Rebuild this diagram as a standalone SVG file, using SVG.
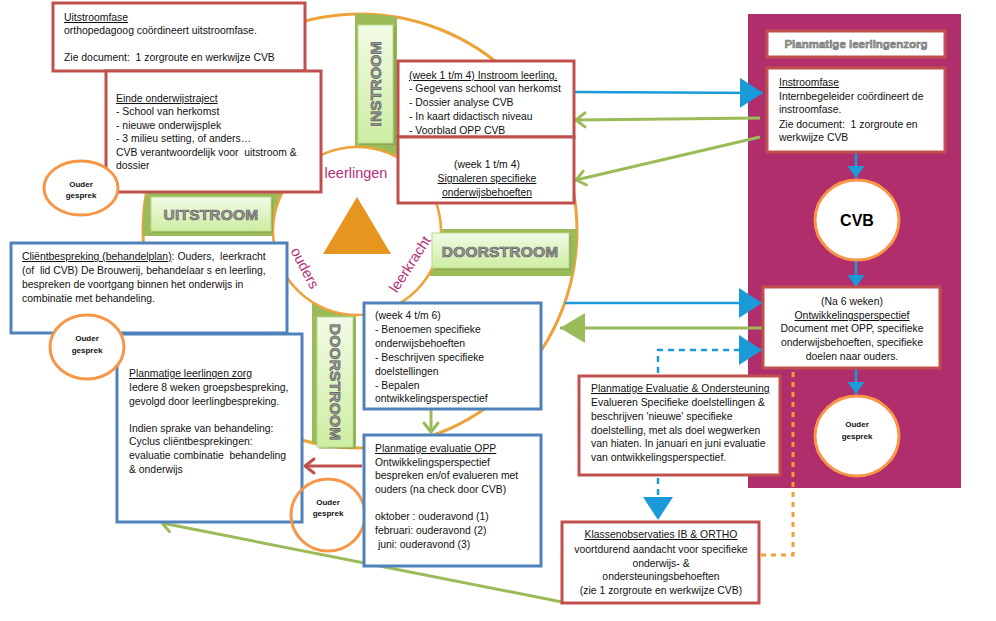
<svg xmlns="http://www.w3.org/2000/svg" width="996" height="621" viewBox="0 0 996 621">
<style>
.t{font-family:"Liberation Sans",Arial,sans-serif;font-size:10.4px;fill:#111;white-space:pre}
.c{text-anchor:middle}
.u{text-decoration:underline}
.rb{fill:#fff;stroke:#c0504d;stroke-width:3}
.bb{fill:#fff;stroke:#4f81bd;stroke-width:3}
.og{fill:#fff;stroke:#f79646;stroke-width:3}
.ogt{font-family:"Liberation Sans",Arial,sans-serif;font-weight:bold;font-size:8px;fill:#111;text-anchor:middle}
.lab{font-family:"Liberation Sans",Arial,sans-serif;font-weight:bold;font-size:15.5px;fill:#9a9a9a;stroke:#5e5e5e;stroke-width:0.7;text-anchor:middle;letter-spacing:0.2px}
.lbox{fill:url(#lg);stroke:#b7d98c;stroke-width:1}
.lsh{fill:#7f9b45;opacity:0.55}
.band{fill:#9bbb59}
.mag{font-family:"Liberation Sans",Arial,sans-serif;font-size:14.5px;fill:#b3307a;text-anchor:middle}
.bl{fill:none;stroke:#1b9ad9;stroke-width:2.5}
.gl{fill:none;stroke:#9bbb59;stroke-width:3}
.rl{fill:none;stroke:#c0504d;stroke-width:3}
.dash{stroke-dasharray:6,5}
</style>
<defs>
<linearGradient id="lg" x1="0" y1="0" x2="0" y2="1">
<stop offset="0" stop-color="#f2fbe6"/>
<stop offset="1" stop-color="#cdeda2"/>
</linearGradient>
<linearGradient id="lgv" x1="0" y1="0" x2="1" y2="0">
<stop offset="0" stop-color="#f2fbe6"/>
<stop offset="1" stop-color="#cdeda2"/>
</linearGradient>
<clipPath id="ring"><path clip-rule="evenodd" d="M143,231 a217,217 0 1,0 434,0 a217,217 0 1,0 -434,0 Z M273,231 a84,84 0 1,0 168,0 a84,84 0 1,0 -168,0 Z"/></clipPath>
<marker id="bBig" viewBox="0 0 23 30" refX="23" refY="15" markerWidth="23" markerHeight="30" markerUnits="userSpaceOnUse" orient="auto"><path d="M0,0 L23,15 L0,30 Z" fill="#1b9ad9"/></marker>
<marker id="bSm" viewBox="0 0 12 17" refX="12" refY="8.5" markerWidth="12" markerHeight="17" markerUnits="userSpaceOnUse" orient="auto"><path d="M0,0 L12,8.5 L0,17 Z" fill="#1b9ad9"/></marker>
<marker id="gBig" viewBox="0 0 25 30" refX="25" refY="15" markerWidth="25" markerHeight="30" markerUnits="userSpaceOnUse" orient="auto"><path d="M0,0 L25,15 L0,30 Z" fill="#9bbb59"/></marker>
<marker id="gCh" viewBox="0 0 14 18" refX="12" refY="9" markerWidth="14" markerHeight="18" markerUnits="userSpaceOnUse" orient="auto" overflow="visible"><path d="M3,2 L12,9 L3,16" fill="none" stroke="#9bbb59" stroke-width="3" stroke-linecap="round" stroke-linejoin="round"/></marker>
<marker id="rCh" viewBox="0 0 14 18" refX="12" refY="9" markerWidth="14" markerHeight="18" markerUnits="userSpaceOnUse" orient="auto" overflow="visible"><path d="M3,2 L12,9 L3,16" fill="none" stroke="#c0504d" stroke-width="3" stroke-linecap="round" stroke-linejoin="round"/></marker>
</defs>
<rect width="996" height="621" fill="#fff"/>

<g id="cycle">
<circle cx="360" cy="231" r="217" fill="#fff" stroke="#eda23a" stroke-width="3"/>
<g clip-path="url(#ring)">
<rect class="band" x="355" y="5" width="42" height="150"/>
<rect class="band" x="135" y="192" width="150" height="44"/>
<rect class="band" x="430" y="229" width="155" height="47"/>
<rect class="band" x="312" y="300" width="44" height="155"/>
</g>
<circle cx="357" cy="231" r="84" fill="#fff" stroke="#eda23a" stroke-width="2.5"/>
<polygon points="357,197 323,254 391,254" fill="#e6951f"/>
<text class="mag" x="356" y="178">leerlingen</text>
<text class="mag" transform="translate(305,268) rotate(62)" y="5">ouders</text>
<text class="mag" transform="translate(410,264) rotate(-57)" y="5">leerkracht</text>
</g>

<g id="label-instroom">
<rect class="lsh" x="360" y="27" width="36" height="118"/>
<rect class="lbox" x="358" y="25" width="35" height="118" fill="url(#lgv)"/>
<text class="lab" transform="translate(381,84) rotate(-90)">INSTROOM</text>
</g>
<g id="label-uitstroom">
<rect class="lsh" x="153" y="199" width="120" height="34"/>
<rect class="lbox" x="151" y="197" width="120" height="34"/>
<text class="lab" x="211" y="220">UITSTROOM</text>
</g>
<g id="label-doorstroom-r">
<rect class="lsh" x="434" y="235" width="137" height="35"/>
<rect class="lbox" x="432" y="233" width="137" height="35"/>
<text class="lab" x="500" y="257">DOORSTROOM</text>
</g>
<g id="label-doorstroom-b">
<rect class="lsh" x="319" y="319" width="36" height="130"/>
<rect class="lbox" x="317" y="317" width="36" height="130" fill="url(#lgv)"/>
<text class="lab" transform="translate(330,382) rotate(90)">DOORSTROOM</text>
</g>

<g id="panel">
<rect x="748" y="14" width="213" height="474" fill="#b02e6b"/>
</g>

<g id="connectors">
<path class="bl" d="M575,92 L763,93" marker-end="url(#bBig)"/>
<path class="gl" d="M760,118 L576,120" marker-end="url(#gCh)"/>
<path class="gl" d="M760,137 L576,180" marker-end="url(#gCh)"/>
<path class="bl" d="M856,153 L856,178" marker-end="url(#bSm)"/>
<path class="bl" d="M856,261 L856,287" marker-end="url(#bSm)"/>
<path class="bl" d="M856,369 L856,394" marker-end="url(#bSm)"/>
<path class="bl" d="M565,303 L762,303" marker-end="url(#bBig)"/>
<path class="gl" d="M762,328 L560,328" marker-end="url(#gBig)"/>
<path class="bl dash" d="M658,373 L658,350 L762,350" marker-end="url(#bBig)"/>
<path class="bl dash" d="M658,478 L658,520" marker-end="url(#bBig)"/>
<path d="M761,555 L793,555 L793,370" fill="none" stroke="#f0a030" stroke-width="3" stroke-dasharray="5,5"/>
<path class="gl" d="M431,410 L431,432" marker-end="url(#gCh)"/>
<path class="gl" d="M562,602 L162,523" marker-end="url(#gCh)"/>
<path class="rl" d="M168,358 L168,336" marker-end="url(#rCh)"/>
<path class="rl" d="M362,466 L305,466" marker-end="url(#rCh)"/>
</g>

<g id="uitstroomfase">
<rect class="rb" x="53" y="3" width="252" height="68"/>
<text class="t" x="64" y="21"><tspan class="u">Uitstroomfase</tspan></text>
<text class="t" x="64" y="34">orthopedagoog coördineert uitstroomfase.</text>
<text class="t" x="64" y="61">Zie document:  1 zorgroute en werkwijze CVB</text>
</g>

<g id="einde">
<rect class="rb" x="106" y="71" width="215" height="121"/>
<text class="t" x="116" y="102"><tspan class="u">Einde onderwijstraject</tspan></text>
<text class="t" x="116" y="115">- School van herkomst</text>
<text class="t" x="116" y="129">- nieuwe onderwijsplek</text>
<text class="t" x="116" y="142">- 3 milieu setting, of anders…</text>
<text class="t" x="116" y="156">CVB verantwoordelijk voor  uitstroom &amp;</text>
<text class="t" x="116" y="169">dossier</text>
</g>

<g id="ouder1">
<ellipse class="og" cx="81" cy="188" rx="37" ry="27"/>
<text class="ogt" x="81" y="187">Ouder</text>
<text class="ogt" x="81" y="198">gesprek</text>
</g>

<g id="clientbespreking">
<rect class="bb" x="11" y="243" width="276" height="90"/>
<text class="t" x="22" y="260"><tspan class="u">Cliëntbespreking (behandelplan)</tspan>: Ouders,  leerkracht</text>
<text class="t" x="22" y="274">(of  lid CVB) De Brouwerij, behandelaar s en leerling,</text>
<text class="t" x="22" y="288">bespreken de voortgang binnen het onderwijs in</text>
<text class="t" x="22" y="302">combinatie met behandeling.</text>
</g>

<g id="leerlingenzorg">
<rect class="bb" x="117" y="334" width="185" height="188"/>
<text class="t" x="129" y="377"><tspan class="u">Planmatige leerlingen zorg</tspan></text>
<text class="t" x="129" y="391">Iedere 8 weken groepsbespreking,</text>
<text class="t" x="129" y="405">gevolgd door leerlingbespreking.</text>
<text class="t" x="129" y="432">Indien sprake van behandeling:</text>
<text class="t" x="129" y="445">Cyclus cliëntbesprekingen:</text>
<text class="t" x="129" y="459">evaluatie combinatie  behandeling</text>
<text class="t" x="129" y="473">&amp; onderwijs</text>
</g>

<g id="ouder2">
<ellipse class="og" cx="87" cy="347" rx="37" ry="32"/>
<text class="ogt" x="87" y="341">Ouder</text>
<text class="ogt" x="87" y="353">gesprek</text>
</g>

<g id="ouder3">
<ellipse cx="328" cy="515" rx="37" ry="36" fill="none" stroke="#f79646" stroke-width="3"/>
<text class="ogt" x="328" y="505">Ouder</text>
<text class="ogt" x="328" y="516">gesprek</text>
</g>

<g id="instroom-leerling">
<rect class="rb" x="398" y="61" width="176" height="76"/>
<text class="t" x="409" y="79"><tspan class="u">(week 1 t/m 4) Instroom leerling.</tspan></text>
<text class="t" x="409" y="92">- Gegevens school van herkomst</text>
<text class="t" x="409" y="106">- Dossier analyse CVB</text>
<text class="t" x="409" y="120">- In kaart didactisch niveau</text>
<text class="t" x="409" y="134">- Voorblad OPP CVB</text>
</g>

<g id="signaleren">
<rect class="rb" x="398" y="137" width="176" height="66"/>
<text class="t c" x="487" y="168">(week 1 t/m 4)</text>
<text class="t c u" x="487" y="182">Signaleren specifieke</text>
<text class="t c u" x="487" y="196">onderwijsbehoeften</text>
</g>

<g id="week4-6">
<rect class="bb" x="364" y="303" width="177" height="106"/>
<text class="t" x="375" y="319">(week 4 t/m 6)</text>
<text class="t" x="375" y="333">- Benoemen specifieke</text>
<text class="t" x="375" y="347">onderwijsbehoeften</text>
<text class="t" x="375" y="361">- Beschrijven specifieke</text>
<text class="t" x="375" y="375">doelstellingen</text>
<text class="t" x="375" y="389">- Bepalen</text>
<text class="t" x="375" y="402">ontwikkelingsperspectief</text>
</g>

<g id="evaluatie-opp">
<rect class="bb" x="364" y="435" width="177" height="131"/>
<text class="t" x="375" y="452"><tspan class="u">Planmatige evaluatie OPP</tspan></text>
<text class="t" x="375" y="466">Ontwikkelingsperspectief</text>
<text class="t" x="375" y="479">bespreken en/of evalueren met</text>
<text class="t" x="375" y="493">ouders (na check door CVB)</text>
<text class="t" x="375" y="520">oktober : ouderavond (1)</text>
<text class="t" x="375" y="534">februari: ouderavond (2)</text>
<text class="t" x="375" y="548"> juni: ouderavond (3)</text>
</g>

<g id="panel-title">
<rect class="rb" x="767" y="31" width="178" height="26"/>
<text x="856" y="48" font-family="Liberation Sans, Arial, sans-serif" font-weight="bold" font-size="11.5" fill="#9a9a9a" stroke="#6a6a6a" stroke-width="0.5" text-anchor="middle">Planmatige leerlingenzorg</text>
</g>

<g id="instroomfase">
<rect class="rb" x="767" y="68" width="178" height="84"/>
<text class="t" x="779" y="86"><tspan class="u">Instroomfase</tspan></text>
<text class="t" x="779" y="100">Internbegeleider coördineert de</text>
<text class="t" x="779" y="113">instroomfase.</text>
<text class="t" x="779" y="128">Zie document:  1 zorgroute en</text>
<text class="t" x="779" y="141">werkwijze CVB</text>
</g>

<g id="cvb">
<ellipse class="og" cx="857" cy="220" rx="42" ry="40"/>
<text x="857" y="226" font-family="Liberation Sans, Arial, sans-serif" font-weight="bold" font-size="16" fill="#000" text-anchor="middle">CVB</text>
</g>

<g id="ontwikkelingsperspectief">
<rect class="rb" x="763" y="287" width="177" height="81"/>
<text class="t c" x="852" y="305">(Na 6 weken)</text>
<text class="t c u" x="852" y="319">Ontwikkelingsperspectief</text>
<text class="t c" x="852" y="332">Document met OPP, specifieke</text>
<text class="t c" x="852" y="346">onderwijsbehoeften, specifieke</text>
<text class="t c" x="852" y="360">doelen naar ouders.</text>
</g>

<g id="ouder4">
<ellipse class="og" cx="857" cy="436" rx="42" ry="40"/>
<text class="ogt" x="857" y="427" font-size="9.5">Ouder</text>
<text class="ogt" x="857" y="439" font-size="9.5">gesprek</text>
</g>

<g id="evaluatie-ondersteuning">
<rect class="rb" x="579" y="376" width="201" height="99"/>
<text class="t" x="591" y="392"><tspan class="u">Planmatige Evaluatie &amp; Ondersteuning</tspan></text>
<text class="t" x="591" y="406">Evalueren Specifieke doelstellingen &amp;</text>
<text class="t" x="591" y="420">beschrijven 'nieuwe' specifieke</text>
<text class="t" x="591" y="434">doelstelling, met als doel wegwerken</text>
<text class="t" x="591" y="447">van hiaten. In januari en juni evaluatie</text>
<text class="t" x="591" y="461">van ontwikkelingsperspectief.</text>
</g>

<g id="klassenobservaties">
<rect class="rb" x="562" y="522" width="197" height="81"/>
<text class="t c u" x="661" y="538">Klassenobservaties IB &amp; ORTHO</text>
<text class="t c" x="661" y="553">voortdurend aandacht voor specifieke</text>
<text class="t c" x="661" y="567">onderwijs- &amp;</text>
<text class="t c" x="661" y="580">ondersteuningsbehoeften</text>
<text class="t c" x="661" y="594">(zie 1 zorgroute en werkwijze CVB)</text>
</g>
</svg>
